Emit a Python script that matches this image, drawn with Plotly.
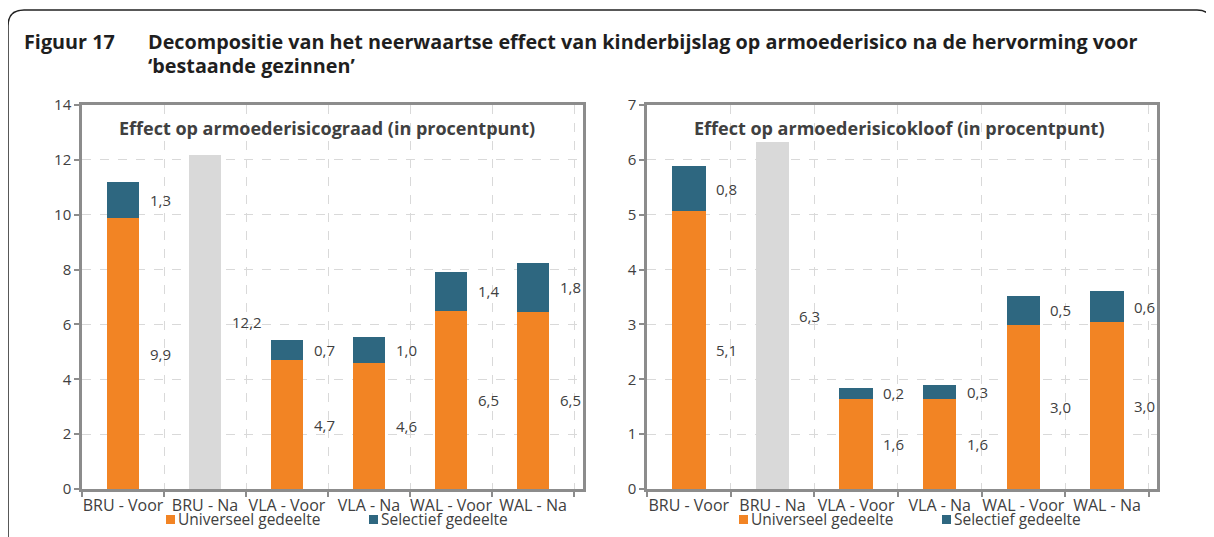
import plotly.graph_objects as go

# ---------------- data ----------------
categories = ["BRU - Voor", "BRU - Na", "VLA - Voor", "VLA - Na", "WAL - Voor", "WAL - Na"]

# Left panel: effect on poverty-risk rate (percentage points)
graad_universeel = [9.87, None, 4.70, 4.58, 6.49, 6.47]
graad_selectief = [1.33, None, 0.73, 0.97, 1.43, 1.78]
graad_totaal_na = [None, 12.18, None, None, None, None]

# Right panel: effect on poverty-risk gap (percentage points)
kloof_universeel = [5.07, None, 1.64, 1.64, 2.99, 3.04]
kloof_selectief = [0.81, None, 0.21, 0.26, 0.53, 0.57]
kloof_totaal_na = [None, 6.32, None, None, None, None]

series_names = ["Universeel gedeelte", "Selectief gedeelte"]
panel_titles = ["Effect op armoederisicograad (in procentpunt)",
                "Effect op armoederisicokloof (in procentpunt)"]
fig_label = "Figuur 17"
fig_title_lines = ["Decompositie van het neerwaartse effect van kinderbijslag op armoederisico na de hervorming voor",
                   "\u2018bestaande gezinnen\u2019"]

# ---------------- styling ----------------
WIN_W, WIN_H = 1214, 537
OFF = 8                      # default page margin of the html body
FW, FH = WIN_W - OFF, WIN_H - OFF
ORANGE = "#F28424"
TEAL = "#2E6780"
GREY_BAR = "#D9D9D9"
AXIS = "#8C8C8C"
GRID = "#D9D9D9"
TXT = "#404040"
FONT = "Open Sans"


def px(x):
    """window pixel x -> paper coordinate"""
    return (x - OFF) / FW


def py(y):
    """window pixel y -> paper coordinate"""
    return 1 - (y - OFF) / FH


def fmt(v):
    return f"{v:.1f}".replace(".", ",")


fig = go.Figure()

panels = [
    dict(xa="x", ya="y", uni=graad_universeel, sel=graad_selectief, tot=graad_totaal_na,
         dom=[px(82), px(583)], rng=[0, 14], dtick=2),
    dict(xa="x2", ya="y2", uni=kloof_universeel, sel=kloof_selectief, tot=kloof_totaal_na,
         dom=[px(647), px(1157)], rng=[0, 7], dtick=1),
]

annotations = []
for p in panels:
    fig.add_trace(go.Bar(x=categories, y=p["uni"], name=series_names[0], marker_color=ORANGE,
                         marker_line_width=0, width=0.4, xaxis=p["xa"], yaxis=p["ya"], showlegend=False))
    fig.add_trace(go.Bar(x=categories, y=p["sel"], name=series_names[1], marker_color=TEAL,
                         marker_line_width=0, width=0.4, xaxis=p["xa"], yaxis=p["ya"], showlegend=False))
    fig.add_trace(go.Bar(x=categories, y=p["tot"], name="Totaal", marker_color=GREY_BAR,
                         marker_line_width=0, width=0.4, xaxis=p["xa"], yaxis=p["ya"], showlegend=False))
    # data labels to the right of each segment
    for c, u, s, t in zip(categories, p["uni"], p["sel"], p["tot"]):
        items = []
        if u is not None:
            items.append((u / 2, u))
        if s is not None:
            items.append((u + s / 2, s))
        if t is not None:
            items.append((t / 2, t))
        for yv, val in items:
            annotations.append(dict(x=c, y=yv, xref=p["xa"], yref=p["ya"], text=fmt(val),
                                    showarrow=False, xanchor="left", yanchor="middle", xshift=25,
                                    font=dict(family=FONT, size=15, color=TXT)))

axis_common = dict(showline=True, linecolor=AXIS, linewidth=2.5, mirror=True,
                   ticks="outside", tickcolor=AXIS, tickwidth=2, ticklen=5,
                   showgrid=True, gridcolor=GRID, griddash="dash", gridwidth=1,
                   zeroline=False, automargin=False)
xfont = dict(family=FONT, size=16, color=TXT)
yfont = dict(family=FONT, size=15, color=TXT)

fig.update_layout(
    xaxis=dict(domain=panels[0]["dom"], anchor="y", type="category", tickson="boundaries",
               tickangle=0, ticklabelstandoff=0, tickfont=xfont, **axis_common),
    yaxis=dict(domain=[py(489), py(105)], anchor="x", range=panels[0]["rng"], dtick=panels[0]["dtick"],
               tickfont=yfont, **axis_common),
    xaxis2=dict(domain=panels[1]["dom"], anchor="y2", type="category", tickson="boundaries",
                tickangle=0, ticklabelstandoff=0, tickfont=xfont, **axis_common),
    yaxis2=dict(domain=[py(489), py(105)], anchor="x2", range=panels[1]["rng"], dtick=panels[1]["dtick"],
                tickfont=yfont, **axis_common),
)

# panel titles
for xpos, t in zip([117, 692], panel_titles):
    annotations.append(dict(x=px(xpos), y=py(128), xref="paper", yref="paper", text=f"<b>{t}</b>",
                            showarrow=False, xanchor="left", yanchor="middle",
                            font=dict(family=FONT, size=18, color=TXT)))

# figure title
title_font = dict(family=FONT, size=19.8, color="#1F1F1F")
annotations.append(dict(x=px(22), y=py(42), xref="paper", yref="paper", text=f"<b>{fig_label}</b>",
                        showarrow=False, xanchor="left", yanchor="middle", font=title_font))
for ypos, line in zip([42, 65], fig_title_lines):
    annotations.append(dict(x=px(146), y=py(ypos), xref="paper", yref="paper", text=f"<b>{line}</b>",
                            showarrow=False, xanchor="left", yanchor="middle", font=title_font))

# legends (square + label) under each panel
shapes = []
legend_pos = [[(166, ORANGE, series_names[0]), (369, TEAL, series_names[1])],
              [(739, ORANGE, series_names[0]), (942, TEAL, series_names[1])]]
for row in legend_pos:
    for x0, col, name in row:
        shapes.append(dict(type="rect", xref="paper", yref="paper", x0=px(x0), x1=px(x0 + 9),
                           y0=py(524), y1=py(515), fillcolor=col, line_width=0))
        annotations.append(dict(x=px(x0 + 10), y=py(519), xref="paper", yref="paper", text=name,
                                showarrow=False, xanchor="left", yanchor="middle",
                                font=dict(family=FONT, size=15.5, color=TXT)))

# rounded frame around the figure
frame = (f"M {px(8)},{py(537)} L {px(8)},{py(26)} Q {px(8)},{py(10)} {px(24)},{py(10)} "
         f"L {px(1197)},{py(10)} Q {px(1212)},{py(10)} {px(1212)},{py(26)} L {px(1212)},{py(537)}")
shapes.append(dict(type="path", xref="paper", yref="paper", path=frame,
                   line=dict(color="#222222", width=1.5)))

fig.update_layout(
    width=FW, height=FH, margin=dict(l=0, r=0, t=0, b=0, autoexpand=False),
    paper_bgcolor="white", plot_bgcolor="white",
    barmode="stack", bargap=0.6,
    annotations=annotations, shapes=shapes, showlegend=False,
    font=dict(family=FONT, color=TXT),
)

fig.write_html("out.html")
